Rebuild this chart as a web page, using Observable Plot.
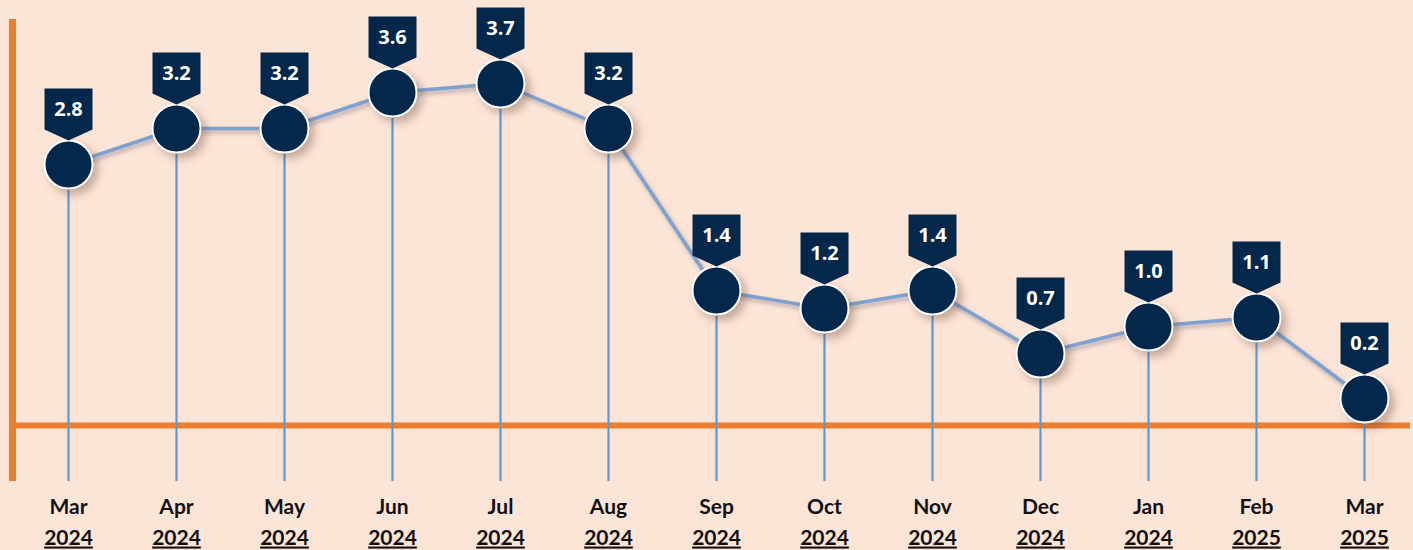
<!DOCTYPE html>
<html>
<head>
<meta charset="utf-8">
<script src="https://cdn.jsdelivr.net/npm/d3@7"></script>
<script src="https://cdn.jsdelivr.net/npm/@observablehq/plot@0.6"></script>
<style>
  html, body { margin: 0; padding: 0; background: #fce4d7; }
  #chart svg { display: block; }
</style>
</head>
<body>
<div id="chart"></div>
<script>
const months = ["Mar","Apr","May","Jun","Jul","Aug","Sep","Oct","Nov","Dec","Jan","Feb","Mar"];
const years  = ["2024","2024","2024","2024","2024","2024","2024","2024","2024","2024","2024","2025","2025"];
const values = [2.8, 3.2, 3.2, 3.6, 3.7, 3.2, 1.4, 1.2, 1.4, 0.7, 1.0, 1.1, 0.2];

const data = months.map((m, i) => ({key: m + " " + years[i], month: m, year: years[i], value: values[i]}));

const callout = {
  draw(ctx) {
    ctx.moveTo(-24, -76);
    ctx.lineTo(24, -76);
    ctx.lineTo(24, -35);
    ctx.lineTo(0, -24);
    ctx.lineTo(-24, -35);
    ctx.closePath();
  }
};

const navy = "#03284b";
const orange = "#ed7d31";

const chart = Plot.plot({
  width: 1413,
  height: 550,
  marginLeft: 12,
  marginRight: 3,
  marginTop: 22,
  marginBottom: 73,
  style: {background: "#fce4d7", overflow: "visible"},
  x: {type: "point", domain: data.map(d => d.key), range: [67, 1365], padding: 0, axis: null},
  y: {domain: [0, 3.7], range: [416, 83], axis: null},
  marks: [
    Plot.frame({anchor: "left", stroke: orange, strokeWidth: 7}),
    Plot.ruleY([0], {stroke: orange, strokeWidth: 6, dy: 9}),
    Plot.ruleX(data, {x: "key", y1: "value", y2: 0, insetBottom: -65, stroke: "#5b9bd5", strokeWidth: 2.2}),
    Plot.line(data, {x: "key", y: "value", stroke: "#7da2d2", strokeWidth: 3.5}),
    Plot.dot(data, {x: "key", y: "value", r: 24, fill: navy, stroke: "white", strokeWidth: 2}),
    Plot.dot(data, {x: "key", y: "value", symbol: callout, r: 10, fill: navy, stroke: "none"}),
    Plot.text(data, {x: "key", y: "value", text: d => d.value.toFixed(1), dy: -55, fill: "white",
      fontSize: 20, fontWeight: 700, fontFamily: "Open Sans"}),
    Plot.text(data, {x: "key", text: "month", frameAnchor: "bottom", dy: 36, fill: "#111",
      fontSize: 21, fontWeight: 700, fontFamily: "Lato"}),
    Plot.text(data, {x: "key", text: "year", frameAnchor: "bottom", dy: 67, fill: "#111",
      fontSize: 21, fontWeight: 700, fontFamily: "Lato", textDecoration: "underline"})
  ]
});

document.getElementById("chart").appendChild(chart);

// decorative shadows
const gs = chart.querySelectorAll('g[aria-label="dot"]');
if (gs[0]) gs[0].style.filter = "drop-shadow(5px 5px 4px rgba(90,60,40,0.35))";
const ln = chart.querySelector('g[aria-label="line"]');
if (ln) ln.style.filter = "drop-shadow(2px 3px 2px rgba(60,60,90,0.35))";
chart.querySelectorAll('g[aria-label="text"]').forEach((g, i) => {
  if (i === 2) g.querySelectorAll("text").forEach(t => {
    t.style.textDecoration = "underline";
    t.style.textDecorationThickness = "3px";
  });
});
</script>
</body>
</html>
